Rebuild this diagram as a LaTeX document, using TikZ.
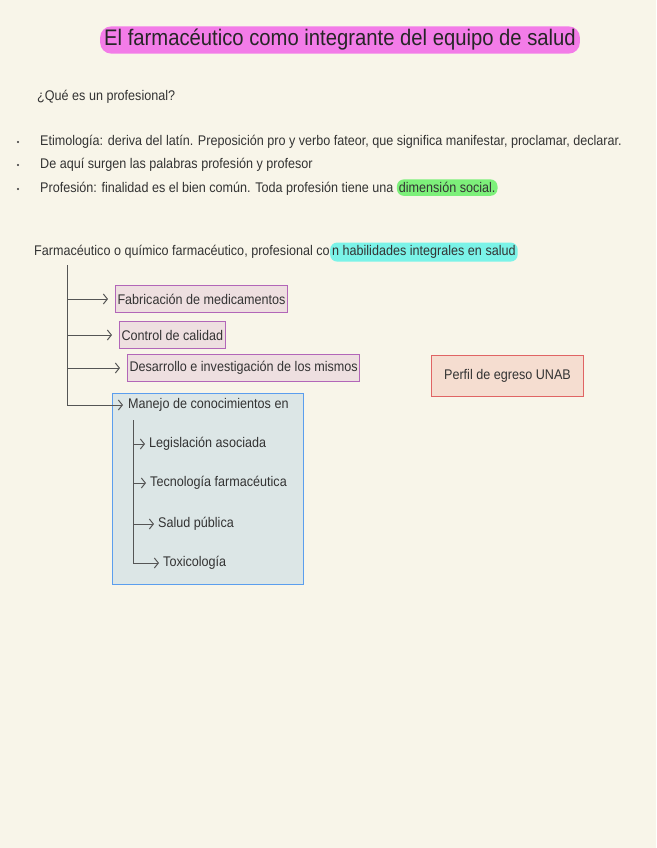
\documentclass[tikz,border=0pt]{standalone}
\usepackage{fontspec}
\setmainfont{Liberation Sans}[FakeStretch=0.9]
\usetikzlibrary{positioning,arrows.meta}
\definecolor{fondo}{HTML}{F8F5E9}
\definecolor{tinta}{HTML}{333333}
\definecolor{linea}{HTML}{555555}
\definecolor{rosa}{HTML}{F37CE8}
\definecolor{verde}{HTML}{7DF07A}
\definecolor{cian}{HTML}{7BF3E8}
\definecolor{lila}{HTML}{B266B8}
\definecolor{rosapalido}{HTML}{EEDFE0}
\definecolor{azul}{HTML}{5B9EEE}
\definecolor{celeste}{HTML}{DCE6E6}
\definecolor{rojo}{HTML}{E06464}
\definecolor{salmon}{HTML}{F5DDD0}
\begin{document}
\begin{tikzpicture}[x=1pt, y=-1pt,
    every node/.style={font=\fontsize{14}{17}\selectfont, text=tinta, inner sep=0pt},
    resalte/.style={rounded corners=7pt, inner xsep=2pt, inner ysep=3pt},
    caja/.style={draw=lila, fill=rosapalido, line width=1pt, inner xsep=2pt, minimum height=27},
    rama/.style={draw=linea, line width=1pt, -{Straight Barb[length=4pt,width=10pt]}, shorten >=7pt}]
  \useasboundingbox[fill=fondo] (0,0) rectangle (656,848);

  % titulo
  \node[fill=rosa, resalte, rounded corners=11pt, inner xsep=4pt, font=\fontsize{22.5}{27}\selectfont, text=black!85] (titulo) at (340,40) {El farmacéutico como integrante del equipo de salud};

  % que es un profesional
  \node[anchor=west] (pregunta) at (37,97) {¿Qué es un profesional?};
  \node[anchor=west] (etimo) at (40,142) {Etimología: deriva del latín. Preposición pro y verbo fateor, que significa manifestar, proclamar, declarar.};
  \node[anchor=west] (surgen) at (40,165) {De aquí surgen las palabras profesión y profesor};
  \node[anchor=west] (finalidad) at (40,189) {Profesión: finalidad es el bien común. Toda profesión tiene una};
  \node[fill=verde, resalte, anchor=base west, xshift=3pt] (social) at (finalidad.base east) {dimensión social.};
  \foreach \y in {142,165,189}
    \fill[tinta] (18,\y) circle (1.2pt);

  % definicion
  \node[anchor=west] (farma) at (34,252) {Farmacéutico o químico farmacéutico, profesional co};
  \node[fill=cian, resalte, anchor=base west] (habil) at (farma.base east) {n habilidades integrales en salud};

  % ramas principales
  \coordinate (tronco) at (67,265);
  \node[caja, anchor=west] (fab) at (115,299) {Fabricación de medicamentos};
  \node[caja, anchor=west] (ctrl) at (119,335) {Control de calidad};
  \node[caja, anchor=west] (desa) at (127,368) {Desarrollo e investigación de los mismos};
  \node[draw=azul, fill=celeste, line width=1pt, minimum width=191, minimum height=191, anchor=north west] (bloque) at (112,393) {};
  \node[anchor=west] (manejo) at (128,405) {Manejo de conocimientos en};

  \draw[rama] (tronco) |- (fab);
  \draw[rama] (tronco) |- (ctrl);
  \draw[rama] (tronco) |- (desa);
  \draw[rama, shorten >=5pt] (tronco) |- (manejo);

  % sub ramas
  \coordinate (tronco2) at (133,420);
  \node[anchor=west] (legis) at (149,444) {Legislación asociada};
  \node[anchor=west] (tecno) at (150,483) {Tecnología farmacéutica};
  \node[anchor=west] (salud) at (158,524) {Salud pública};
  \node[anchor=west] (toxi) at (163,563) {Toxicología};
  \foreach \n in {legis,tecno,salud,toxi}
    \draw[rama, shorten >=4pt] (tronco2) |- (\n);

  % perfil
  \node[draw=rojo, fill=salmon, line width=1pt, minimum width=152, minimum height=41, anchor=north west] (perfil) at (431,355) {Perfil de egreso UNAB};
\end{tikzpicture}
\end{document}
